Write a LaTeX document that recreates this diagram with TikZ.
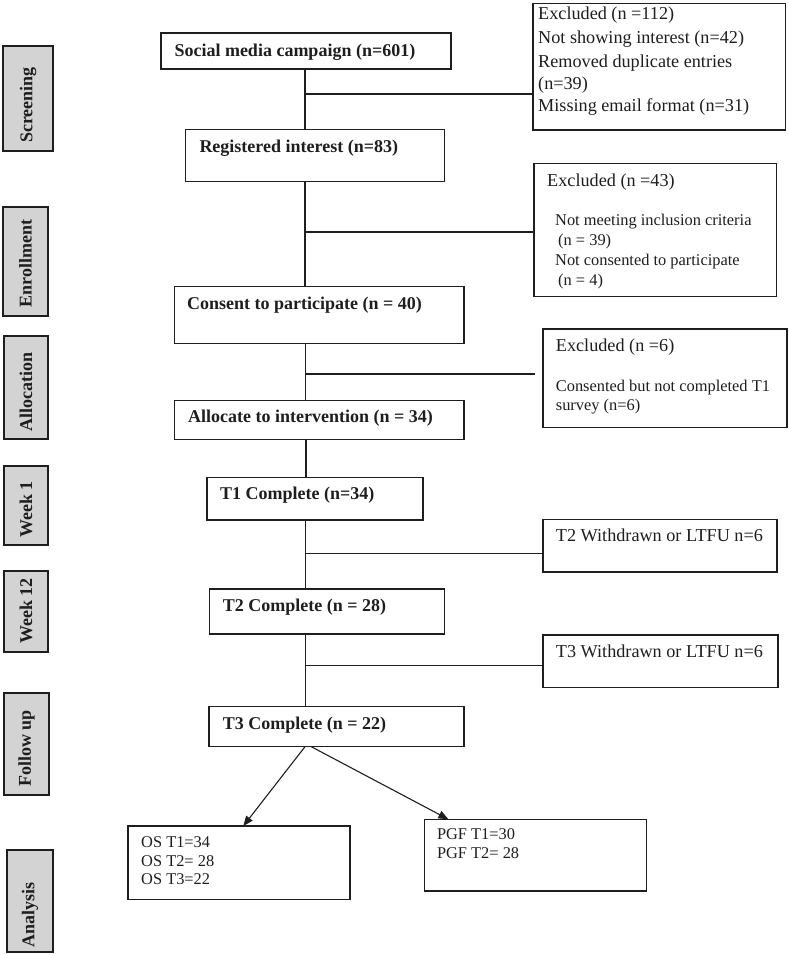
\documentclass[tikz,border=0pt]{standalone}
\usepackage{fontspec}
\setmainfont{Liberation Serif}
\usetikzlibrary{arrows.meta,fit}
\definecolor{lblgray}{RGB}{211,211,211}
\definecolor{ink}{RGB}{30,30,30}
\begin{document}
\begin{tikzpicture}[x=1pt,y=-1pt,
  fbox/.style={draw=ink, line width=1.2pt, inner sep=0pt},
  lbl/.style={draw=ink, line width=1.7pt, fill=lblgray, inner sep=0pt},
  bt/.style={inner sep=0pt, anchor=west, text=ink, font=\fontsize{18}{21.6}\selectfont\bfseries, execute at begin node=\strut},
  rt/.style={inner sep=0pt, anchor=west, text=ink, font=\fontsize{18.2}{21.6}\selectfont, execute at begin node=\strut},
  st/.style={inner sep=0pt, anchor=west, text=ink, font=\fontsize{16.4}{19.7}\selectfont, execute at begin node=\strut},
  vt/.style={inner sep=0pt, rotate=90, text=ink, font=\fontsize{18}{21.6}\selectfont\bfseries},
  link/.style={draw=ink, line width=1.1pt},
  arr/.style={link, -{Triangle[length=10pt,width=8pt]}}]
\useasboundingbox (0,0) rectangle (788,955);

% stage labels
\node[lbl, fit={(3.3,45.7) (52.7,150.7)}] (L1) {};
\node[vt] (L1t) at (28,105) {Screening};
\node[lbl, fit={(3.3,207.3) (47.7,316)}] (L2) {};
\node[vt] (L2t) at (25.5,263.7) {Enrollment};
\node[lbl, fit={(4,336) (48,438.7)}] (L3) {};
\node[vt] (L3t) at (26,391.8) {Allocation};
\node[lbl, fit={(4,466) (48,545.3)}] (L4) {};
\node[vt] (L4t) at (26,509.5) {Week 1};
\node[lbl, fit={(4,570.7) (48,651.7)}] (L5) {};
\node[vt] (L5t) at (26,610.8) {Week 12};
\node[lbl, fit={(4,693.3) (49,795)}] (L6) {};
\node[vt] (L6t) at (26.5,748.7) {Follow up};
\node[lbl, fit={(7.3,850) (52.7,951.7)}] (L7) {};
\node[vt] (L7t) at (30,914.7) {Analysis};

% main boxes
\node[fbox, line width=1.8pt, fit={(160.7,33.3) (450.7,69)}] (sm) {};
\node[bt] (smt) at (174.3,51.7) {Social media campaign (n=601)};
\node[fbox, fit={(185.7,129.7) (444.3,181.7)}] (ri) {};
\node[bt] (rit) at (199.3,148.3) {Registered interest (n=83)};
\node[fbox, fit={(174.5,286.7) (464,343.3)}] (cp) {};
\node[bt] (cpt) at (187,305) {Consent to participate (n = 40)};
\node[fbox, fit={(174.8,400.3) (464,439.3)}] (al) {};
\node[bt] (alt) at (188,418.3) {Allocate to intervention (n = 34)};
\node[fbox, fit={(207,477.3) (423,520)}] (t1) {};
\node[bt] (t1t) at (220,495) {T1 Complete (n=34)};
\node[fbox, fit={(209.6,589) (444.8,634)}] (t2) {};
\node[bt] (t2t) at (222.7,606.7) {T2 Complete (n = 28)};
\node[fbox, fit={(209,706.7) (464,746.7)}] (t3) {};
\node[bt] (t3t) at (222.7,725) {T3 Complete (n = 22)};

% side boxes
\node[fbox, fit={(533,3.3) (785.7,130)}] (ex1) {};
\node[rt] (ex1a) at (538,15) {Excluded (n =112)};
\node[rt] (ex1b) at (538,39.3) {Not showing interest (n=42)};
\node[rt] (ex1c) at (538,63.3) {Removed duplicate entries};
\node[rt] (ex1d) at (538,85) {(n=39)};
\node[rt] (ex1e) at (538,106.7) {Missing email format (n=31)};

\node[fbox, fit={(534,163.3) (776.7,296.7)}] (ex2) {};
\node[rt] (ex2a) at (547,182) {Excluded (n =43)};
\node[st] (ex2b) at (555,222) {Not meeting inclusion criteria};
\node[st] (ex2c) at (558,242) {(n = 39)};
\node[st] (ex2d) at (555,262) {Not consented to participate};
\node[st] (ex2e) at (558,282) {(n = 4)};

\node[fbox, fit={(543,329) (787,427.3)}] (ex3) {};
\node[rt] (ex3a) at (555.7,346.7) {Excluded (n =6)};
\node[st] (ex3b) at (555.7,387.7) {Consented but not completed T1};
\node[st] (ex3c) at (555.7,406.7) {survey (n=6)};

\node[fbox, fit={(543,519.3) (777,572)}] (wd2) {};
\node[rt] (wd2t) at (555.7,537.3) {T2 Withdrawn or LTFU n=6};
\node[fbox, fit={(543,635) (778,687.3)}] (wd3) {};
\node[rt] (wd3t) at (555.7,652.7) {T3 Withdrawn or LTFU n=6};

\node[fbox, fit={(128,826) (350,899.3)}] (os) {};
\node[st] (osa) at (141,843.3) {OS T1=34};
\node[st] (osb) at (141,862.3) {OS T2= 28};
\node[st] (osc) at (141,881) {OS T3=22};
\node[fbox, fit={(424.7,819.3) (646.4,891)}] (pgf) {};
\node[st] (pgfa) at (436.8,835.7) {PGF T1=30};
\node[st] (pgfb) at (436.8,855) {PGF T2= 28};

% connectors
\coordinate (j1) at (305,94);
\draw[link] (j1 |- sm.south) -- (j1 |- ri.north);
\draw[link] (j1) -- (j1 -| ex1.west);
\coordinate (j2) at (305,232);
\draw[link] (j2 |- ri.south) -- (j2 |- cp.north);
\draw[link] (j2) -- (j2 -| ex2.west);
\coordinate (j3) at (305.5,374);
\coordinate (e3) at (535,374);
\draw[link] (j3 |- cp.south) -- (j3 |- al.north);
\draw[link] (j3) -- (e3);
\coordinate (j4) at (306,458);
\draw[link] (j4 |- al.south) -- (j4 |- t1.north);
\coordinate (j5) at (305.5,553.3);
\draw[link] (j5 |- t1.south) -- (j5 |- t2.north);
\draw[link] (j5) -- (j5 -| wd2.west);
\coordinate (j6) at (305.5,665.3);
\draw[link] (j6 |- t2.south) -- (j6 |- t3.north);
\draw[link] (j6) -- (j6 -| wd3.west);
\coordinate (a1) at (305,746.7);
\coordinate (a2) at (311.3,746.7);
\coordinate (o1) at (243.3,826);
\coordinate (p1) at (448.4,819.3);
\draw[arr] (a1) -- (o1);
\draw[arr] (a2) -- (p1);
\end{tikzpicture}
\end{document}
